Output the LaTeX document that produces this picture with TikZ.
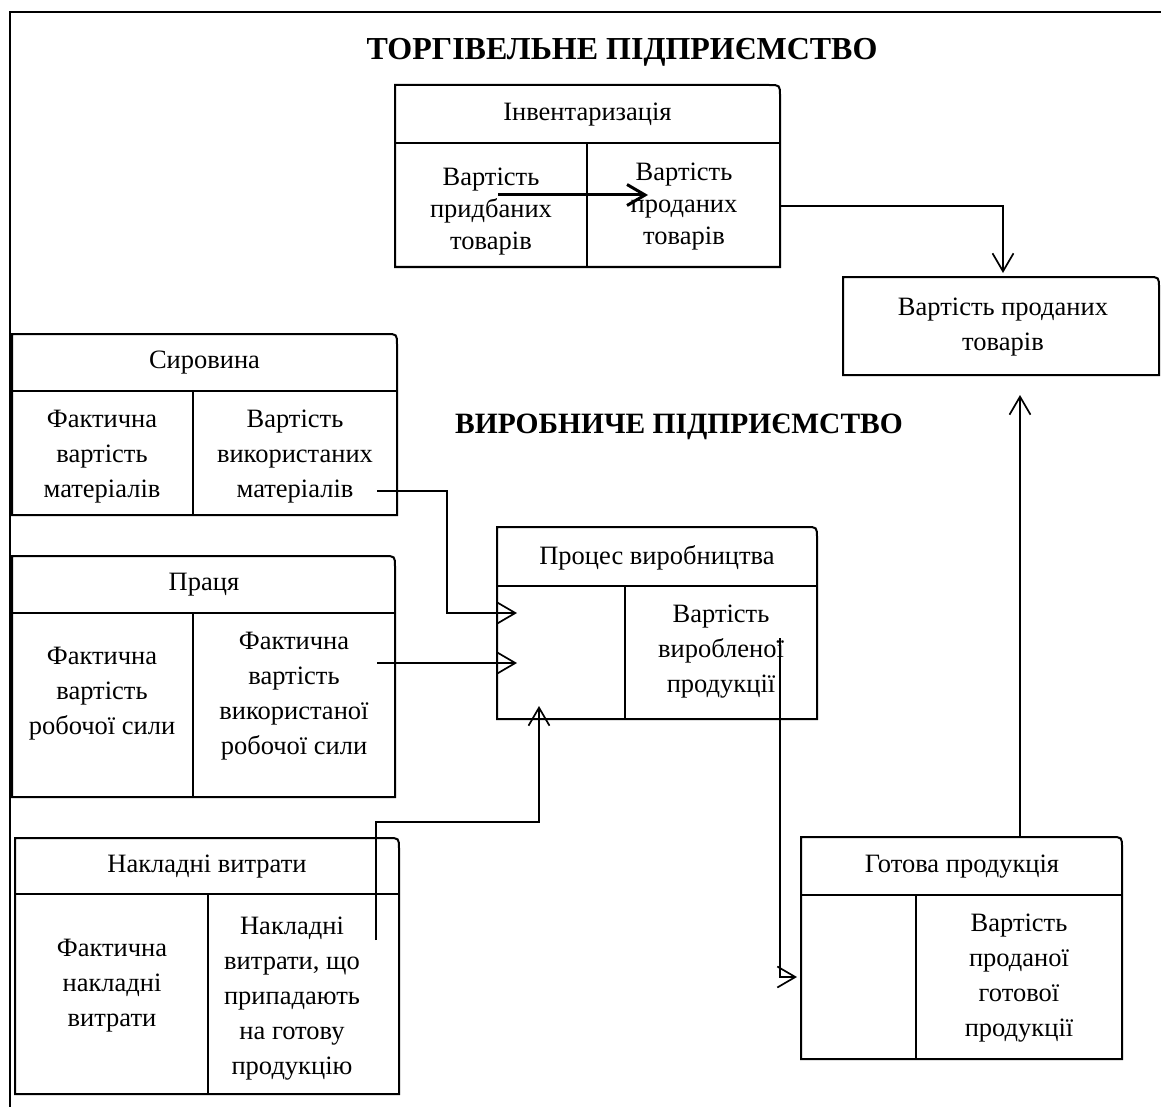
\documentclass[tikz,border=0pt]{standalone}
\usepackage{fontspec}
\setmainfont{Liberation Serif}
\usetikzlibrary{arrows.meta}
\newcommand\umlbox[6]{% x1 y1 x2 y2 yh xm
  \draw[boxline] (#1,#4) -- (#1,#2) -- ({#3-11},#2) .. controls (#3,#2) .. (#3,{#2+11}) -- (#3,#4) -- cycle;
  \draw[boxline] (#1,#5) -- (#3,#5);
  \draw[boxline] (#6,#5) -- (#6,#4);
}
\begin{document}
\begin{tikzpicture}[x=1pt,y=-1pt,
  boxline/.style={line width=2pt, line join=miter},
  conn/.style={line width=1.7pt, -{Straight Barb[length=18pt,width=21pt,line width=1.7pt]}},
  txt/.style={font=\fontsize{26.5}{35}\selectfont, align=center, inner sep=0pt},
  txts/.style={font=\fontsize{26.5}{32}\selectfont, align=center, inner sep=0pt},
  ttlA/.style={font=\fontsize{32}{36}\selectfont\bfseries, inner sep=0pt},
  ttlB/.style={font=\fontsize{29.5}{34}\selectfont\bfseries, inner sep=0pt}]
\useasboundingbox (0,0) rectangle (1161,1107);
% frame
\draw[line width=1.6pt] (10,1107) -- (10,12) -- (1161,12);
% titles
\node[ttlA] (t1) at (622,52) {ТОРГІВЕЛЬНЕ ПІДПРИЄМСТВО};
\node[ttlB] (t2) at (679,427) {ВИРОБНИЧЕ ПІДПРИЄМСТВО};
% boxes
\umlbox{395}{85}{780}{267}{143}{587}
\umlbox{12}{334}{397}{515}{391}{193}
\umlbox{12}{556}{395}{797}{613}{193}
\umlbox{15}{838}{399}{1094}{894}{208}
\umlbox{497}{527}{817}{719}{586}{625}
\umlbox{801}{837}{1122}{1059}{895}{916}
\draw[boxline] (843,375) -- (843,277) -- (1148,277) .. controls (1159,277) .. (1159,288) -- (1159,375) -- cycle;
% texts
\node[txt] (invH) at (587.5,115) {Інвентаризація};
\node[txts] (invL) at (491,212) {Вартість\\придбаних\\товарів};
\node[txts] (invR) at (684,207) {Вартість\\проданих\\товарів};
\node[txt] (cogs) at (1003,327) {Вартість проданих\\товарів};
\node[txt] (syrH) at (204.5,363) {Сировина};
\node[txt] (syrL) at (102,457) {Фактична\\вартість\\матеріалів};
\node[txt] (syrR) at (295,457) {Вартість\\використаних\\матеріалів};
\node[txt] (prH) at (204,585) {Праця};
\node[txt] (prL) at (102,694) {Фактична\\вартість\\робочої сили};
\node[txt] (prR) at (294,696) {Фактична\\вартість\\використаної\\робочої сили};
\node[txt] (nakH) at (207,867) {Накладні витрати};
\node[txt] (nakL) at (112,986) {Фактична\\накладні\\витрати};
\node[txt] (nakR) at (292,999) {Накладні\\витрати, що\\припадають\\на готову\\продукцію};
\node[txt] (procH) at (657,558) {Процес виробництва};
\node[txt] (procR) at (721,652) {Вартість\\виробленої\\продукції};
\node[txt] (gotH) at (962,867) {Готова продукція};
\node[txt] (gotR) at (1019,978) {Вартість\\проданої\\готової\\продукції};
% connector points
\coordinate (a1s) at (498,195); \coordinate (a1e) at (648,195);
\coordinate (a2s) at (780,206); \coordinate (a2e) at (1003,273);
\coordinate (a3s) at (377,491); \coordinate (a3m) at (447,491); \coordinate (a3e) at (517,613);
\coordinate (a4s) at (377,663); \coordinate (a4e) at (517,663);
\coordinate (a5s) at (376,940); \coordinate (a5m) at (376,822); \coordinate (a5e) at (539,706);
\coordinate (a6s) at (780,638); \coordinate (a6e) at (797,977);
\coordinate (a7s) at (1020,837); \coordinate (a7e) at (1020,395);
% connectors
\draw[line width=3pt, -{Straight Barb[length=18pt,width=21pt,line width=3pt]}] (a1s) -- (a1e);
\draw[conn] (a2s) -| (a2e);
\draw[conn] (a3s) -- (a3m) |- (a3e);
\draw[conn] (a4s) -- (a4e);
\draw[conn] (a5s) -- (a5m) -| (a5e);
\draw[conn] (a6s) |- (a6e);
\draw[conn] (a7s) -- (a7e);
\end{tikzpicture}
\end{document}
